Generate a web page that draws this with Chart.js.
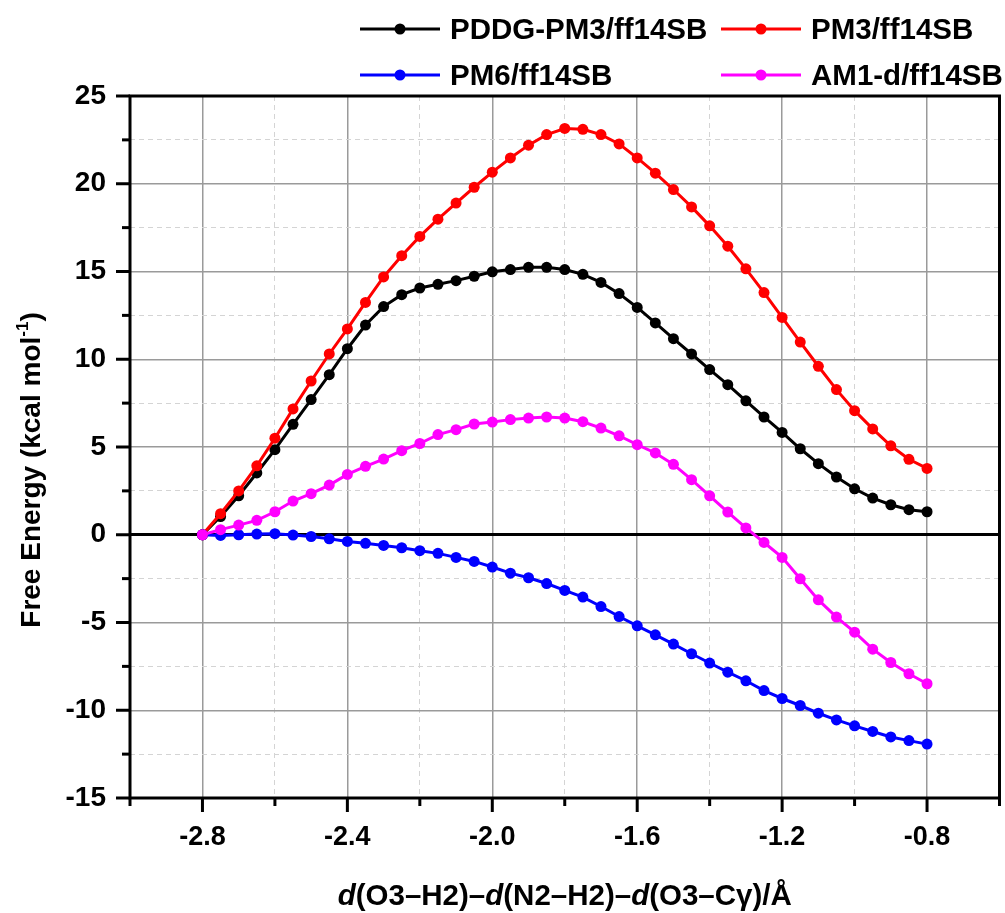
<!DOCTYPE html>
<html>
<head>
<meta charset="utf-8">
<script src="https://cdn.jsdelivr.net/npm/chart.js@4.4.1/dist/chart.umd.min.js"></script>
<style>
  html, body { margin: 0; padding: 0; background: #fff; }
  #wrap { width: 1005px; height: 913px; }
</style>
</head>
<body>
<div id="wrap"><canvas id="energyChart" width="1005" height="913"></canvas></div>
<script>
// reaction coordinate, Å
const coord = [-2.8, -2.75, -2.7, -2.65, -2.6, -2.55, -2.5, -2.45, -2.4, -2.35,
               -2.3, -2.25, -2.2, -2.15, -2.1, -2.05, -2.0, -1.95, -1.9, -1.85,
               -1.8, -1.75, -1.7, -1.65, -1.6, -1.55, -1.5, -1.45, -1.4, -1.35,
               -1.3, -1.25, -1.2, -1.15, -1.1, -1.05, -1.0, -0.95, -0.9, -0.85, -0.8];

// free energy profiles, kcal/mol
const pddgPm3 = [0, 1.04, 2.22, 3.52, 4.85, 6.29, 7.7, 9.12, 10.6, 11.95,
                 13.0, 13.68, 14.06, 14.27, 14.48, 14.73, 14.98, 15.11, 15.24, 15.24,
                 15.11, 14.84, 14.38, 13.74, 12.95, 12.07, 11.17, 10.3, 9.41, 8.55,
                 7.63, 6.71, 5.83, 4.9, 4.05, 3.29, 2.62, 2.09, 1.71, 1.43, 1.31];
const pm3 = [0, 1.2, 2.5, 3.93, 5.5, 7.17, 8.76, 10.3, 11.73, 13.24,
             14.69, 15.9, 17.0, 17.98, 18.9, 19.8, 20.66, 21.47, 22.2, 22.8,
             23.15, 23.1, 22.8, 22.27, 21.47, 20.6, 19.67, 18.68, 17.6, 16.44,
             15.15, 13.8, 12.38, 10.98, 9.6, 8.27, 7.07, 6.03, 5.07, 4.3, 3.78];
const pm6 = [0, -0.04, 0, 0.04, 0.06, -0.02, -0.1, -0.23, -0.38, -0.49,
             -0.61, -0.74, -0.91, -1.06, -1.29, -1.52, -1.84, -2.19, -2.45, -2.78,
             -3.17, -3.55, -4.09, -4.66, -5.19, -5.7, -6.23, -6.78, -7.31, -7.83,
             -8.32, -8.88, -9.33, -9.73, -10.17, -10.55, -10.89, -11.21, -11.52, -11.73, -11.93];
const am1d = [0, 0.29, 0.55, 0.82, 1.31, 1.92, 2.34, 2.83, 3.44, 3.9,
              4.31, 4.79, 5.2, 5.71, 5.99, 6.31, 6.42, 6.56, 6.65, 6.71,
              6.65, 6.44, 6.08, 5.64, 5.13, 4.66, 4.01, 3.14, 2.22, 1.29,
              0.39, -0.44, -1.29, -2.51, -3.71, -4.69, -5.55, -6.52, -7.28, -7.92, -8.49];

const seriesNames = ['PDDG-PM3/ff14SB', 'PM3/ff14SB', 'PM6/ff14SB', 'AM1-d/ff14SB'];
const seriesColors = ['#000000', '#ff0000', '#0000ff', '#ff00ff'];

// axis ticks (labels only on the major ones)
const xTicks = [-3.0, -2.8, -2.6, -2.4, -2.2, -2.0, -1.8, -1.6, -1.4, -1.2, -1.0, -0.8, -0.6];
const yTicks = [-15, -12.5, -10, -7.5, -5, -2.5, 0, 2.5, 5, 7.5, 10, 12.5, 15, 17.5, 20, 22.5, 25];

const FONT = '"Liberation Sans", Arial, sans-serif';
const isMajorX = v => Math.abs(Math.round(v * 10)) % 4 === 0;
const isMajorY = v => v % 5 === 0;

const toPoints = ys => coord.map((x, i) => ({ x: x, y: ys[i] }));
const makeSet = (k, ys, order) => ({
    label: seriesNames[k],
    data: toPoints(ys),
    borderColor: seriesColors[k],
    backgroundColor: seriesColors[k],
    borderWidth: 3,
    pointRadius: 5.5,
    pointBorderWidth: 0,
    pointHoverRadius: 5.5,
    tension: 0,
    order: order,
});

// frame, tick marks, legend and axis titles
const decorations = {
    id: 'decorations',
    afterDraw(chart) {
        const { ctx, chartArea: a } = chart;
        const xs = chart.scales.x, ys = chart.scales.y;
        ctx.save();
        ctx.strokeStyle = '#000';
        ctx.lineWidth = 3;
        ctx.lineCap = 'butt';

        xTicks.forEach(v => {
            const px = xs.getPixelForValue(v);
            const len = isMajorX(v) ? 14 : 8;
            ctx.beginPath(); ctx.moveTo(px, a.bottom); ctx.lineTo(px, a.bottom + len); ctx.stroke();
        });
        yTicks.forEach(v => {
            const py = ys.getPixelForValue(v);
            const len = isMajorY(v) ? 14 : 8;
            ctx.beginPath(); ctx.moveTo(a.left, py); ctx.lineTo(a.left - len, py); ctx.stroke();
        });
        ctx.strokeRect(a.left, a.top, a.right - a.left, a.bottom - a.top);

        // legend, two rows of two
        const slots = [[360, 39], [721, 39], [360, 85], [721, 85]];
        ctx.font = 'bold 29.5px ' + FONT;
        ctx.textBaseline = 'alphabetic';
        ctx.textAlign = 'left';
        slots.forEach(([lx, ly], k) => {
            const cy = ly - 10;
            ctx.strokeStyle = seriesColors[k];
            ctx.fillStyle = seriesColors[k];
            ctx.lineWidth = 3;
            ctx.beginPath(); ctx.moveTo(lx, cy); ctx.lineTo(lx + 80, cy); ctx.stroke();
            ctx.beginPath(); ctx.arc(lx + 40, cy, 5.5, 0, Math.PI * 2); ctx.fill();
            ctx.fillStyle = '#000';
            ctx.fillText(seriesNames[k], lx + 90, ly);
        });

        // y title with superscript
        const main = 'Free Energy (kcal mol', sup = '-1', tail = ')';
        const fMain = 'bold 28px ' + FONT, fSup = 'bold 17px ' + FONT;
        ctx.font = fMain; const w1 = ctx.measureText(main).width, w3 = ctx.measureText(tail).width;
        ctx.font = fSup; const w2 = ctx.measureText(sup).width;
        ctx.save();
        ctx.translate(40, 470);
        ctx.rotate(-Math.PI / 2);
        let tx = -(w1 + w2 + w3) / 2;
        ctx.fillStyle = '#000';
        ctx.font = fMain; ctx.fillText(main, tx, 0); tx += w1;
        ctx.font = fSup; ctx.fillText(sup, tx, -12); tx += w2;
        ctx.font = fMain; ctx.fillText(tail, tx, 0);
        ctx.restore();

        // x title, italic d
        const parts = [['d', true], ['(O3\u2013H2)\u2013', false], ['d', true],
                       ['(N2\u2013H2)\u2013', false], ['d', true], ['(O3\u2013C\u03b3)/\u00c5', false]];
        const fontOf = it => (it ? 'italic ' : '') + 'bold 29.5px ' + FONT;
        let total = 0;
        parts.forEach(([s, it]) => { ctx.font = fontOf(it); total += ctx.measureText(s).width; });
        let px = (a.left + a.right) / 2 - total / 2;
        parts.forEach(([s, it]) => {
            ctx.font = fontOf(it);
            ctx.fillText(s, px, 905);
            px += ctx.measureText(s).width;
        });
        ctx.restore();
    }
};

new Chart(document.getElementById('energyChart'), {
    type: 'line',
    data: {
        datasets: [
            makeSet(0, pddgPm3, 4),
            makeSet(1, pm3, 3),
            makeSet(2, pm6, 2),
            makeSet(3, am1d, 1),
        ],
    },
    options: {
        responsive: false,
        animation: false,
        layout: { padding: { top: 96, right: 4, left: 0, bottom: 0 } },
        plugins: { legend: { display: false }, tooltip: { enabled: false } },
        scales: {
            x: {
                type: 'linear',
                min: -3.0,
                max: -0.6,
                afterBuildTicks: s => { s.ticks = xTicks.map(v => ({ value: v })); },
                afterFit: s => { s.height = 115; s.paddingLeft = 0; s.paddingRight = 0; },
                grid: {
                    drawTicks: false,
                    color: c => (c.tick && isMajorX(c.tick.value)) ? '#9a9a9a' : '#d4d4d4',
                    lineWidth: c => (c.tick && isMajorX(c.tick.value)) ? 1.5 : 1,
                },
                border: {
                    display: false,
                    dash: c => (c.tick && !isMajorX(c.tick.value)) ? [5, 4] : [],
                },
                ticks: {
                    padding: 23,
                    color: '#000',
                    font: { family: FONT, size: 27, weight: 'bold' },
                    callback: v => isMajorX(v) ? v.toFixed(1) : '',
                    maxRotation: 0,
                    autoSkip: false,
                },
            },
            y: {
                min: -15,
                max: 25,
                afterBuildTicks: s => { s.ticks = yTicks.map(v => ({ value: v })); },
                afterFit: s => { s.width = 130; },
                grid: {
                    drawTicks: false,
                    color: c => {
                        if (!c.tick) return '#d4d4d4';
                        if (c.tick.value === 0) return '#000';
                        return isMajorY(c.tick.value) ? '#9a9a9a' : '#d4d4d4';
                    },
                    lineWidth: c => {
                        if (!c.tick) return 1;
                        if (c.tick.value === 0) return 3;
                        return isMajorY(c.tick.value) ? 1.5 : 1;
                    },
                },
                border: {
                    display: false,
                    dash: c => (c.tick && !isMajorY(c.tick.value)) ? [5, 4] : [],
                },
                ticks: {
                    padding: 24,
                    color: '#000',
                    font: { family: FONT, size: 28, weight: 'bold' },
                    callback: v => isMajorY(v) ? String(v) : '',
                    autoSkip: false,
                },
            },
        },
    },
    plugins: [decorations],
});
</script>
</body>
</html>
